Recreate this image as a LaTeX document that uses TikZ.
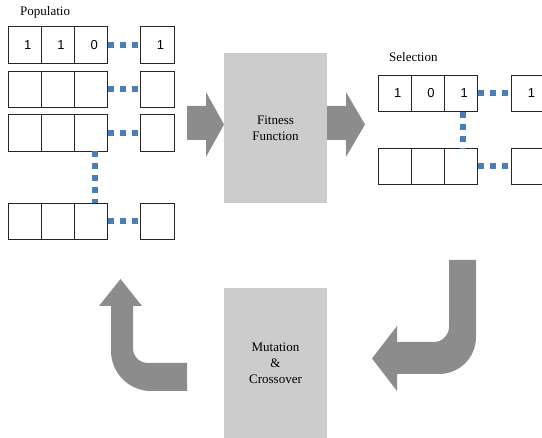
\documentclass[tikz,border=0pt]{standalone}
\usepackage{fontspec}
\setmainfont{Liberation Serif}
\newfontfamily\digitfont{Liberation Sans}
\definecolor{dotblue}{HTML}{4A7EBB}
\definecolor{arrowgray}{HTML}{8C8C8C}
\definecolor{boxgray}{HTML}{CCCCCC}
\begin{document}
\begin{tikzpicture}[x=1pt,y=-1pt,
  cell/.style={draw=black!85,line width=1pt,minimum width=33.33pt,minimum height=36.5pt,inner sep=0pt,outer sep=0pt},
  bit/.style={font=\digitfont\fontsize{13}{15}\selectfont,inner sep=0pt},
  link/.style={draw=dotblue,line width=6pt,dash pattern=on 6pt off 6pt},
  stage/.style={fill=boxgray,minimum width=103pt,minimum height=150pt,inner sep=0pt,align=center,
    font=\fontsize{13}{16}\selectfont},
  caption/.style={anchor=west,inner sep=0pt,font=\fontsize{13}{16}\selectfont},
  bigarrow/.style={fill=arrowgray}]
\useasboundingbox (0,0) rectangle (542,438);
\clip (0,0) rectangle (542,438);

% population: four chromosomes
\foreach \r/\y in {1/45,2/89.5,3/133,4/221.5}{
  \node[cell] (p\r1) at (24.67,\y) {};
  \node[cell] (p\r2) at (58,\y) {};
  \node[cell] (p\r3) at (91.33,\y) {};
  \node[cell] (p\r4) at (157.5,\y) {};
  \draw[link] (p\r3.east) -- (p\r4.west);
}
\draw[link] ([xshift=3.5pt]p33.south) -- ([xshift=3.5pt]p43.north);
\node[bit] at ([xshift=3pt]p11.center) {1};
\node[bit] at ([xshift=3pt]p12.center) {1};
\node[bit] at ([xshift=3pt]p13.center) {0};
\node[bit] at ([xshift=3pt]p14.center) {1};
\node[caption] (poplabel) at (20,12) {Populatio};

% selected chromosomes
\foreach \r/\y in {1/93.5,2/166.5}{
  \node[cell] (s\r1) at (394.67,\y) {};
  \node[cell] (s\r2) at (428,\y) {};
  \node[cell] (s\r3) at (461.33,\y) {};
  \node[cell] (s\r4) at (528.5,\y) {};
  \draw[link] (s\r3.east) -- (s\r4.west);
}
\draw[link] ([xshift=1.2pt]s13.south) -- ([xshift=1.2pt]s23.north);
\node[bit] at ([xshift=3pt]s11.center) {1};
\node[bit] at ([xshift=3pt]s12.center) {0};
\node[bit] at ([xshift=3pt]s13.center) {1};
\node[bit] at ([xshift=3pt]s14.center) {1};
\node[caption] (sellabel) at (389,57) {Selection};

% processing stages
\node[stage] (fitness) at (275.5,128.5) {Fitness\\Function};
\node[stage] (mutation) at (275.5,363) {Mutation\\\&\\Crossover};

% block arrows
\fill[bigarrow] (187,106) -- (206,106) -- (206,92) -- (224,124.5) -- (206,157) -- (206,140) -- (187,140) -- cycle;
\fill[bigarrow] (327,106) -- (346,106) -- (346,92) -- (365,124.5) -- (346,157) -- (346,140) -- (327,140) -- cycle;
\fill[bigarrow] (449,260) -- (476,260) -- (476,337)
  .. controls (476,358) and (459,374) .. (439,374) -- (397,374) -- (397,391)
  -- (372,358.5) -- (397,326) -- (397,342) -- (434,342)
  .. controls (442,342) and (449,335) .. (449,327) -- cycle;
\fill[bigarrow] (187,363) -- (148,363)
  .. controls (140,363) and (133,357) .. (133,348) -- (133,306) -- (142,306)
  -- (120.5,279) -- (99,306) -- (111,306) -- (111,351)
  .. controls (111,373) and (129,391) .. (151,391) -- (187,391) -- cycle;
\end{tikzpicture}
\end{document}
